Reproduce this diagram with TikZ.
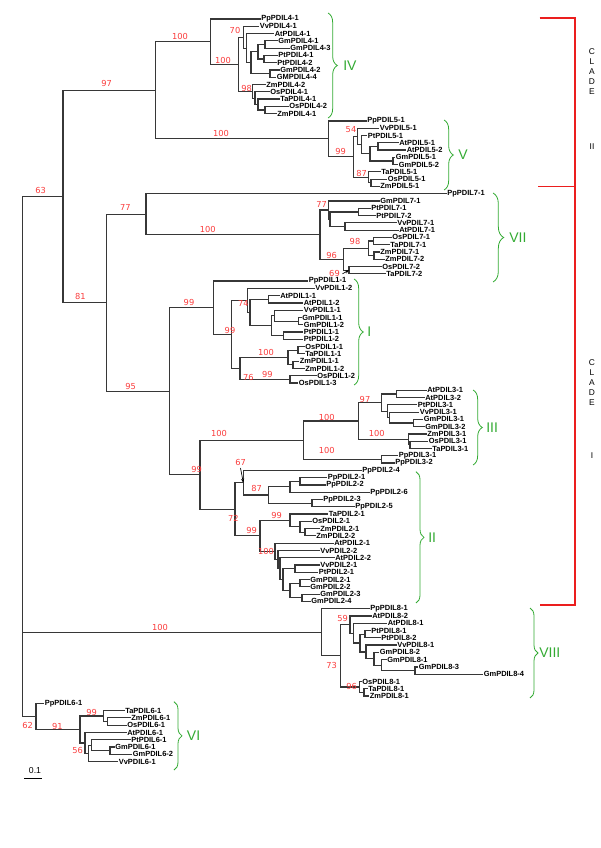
\documentclass[tikz,border=0pt]{standalone}
\usepackage{fontspec}
\setmainfont{Liberation Sans}
\newfontfamily\bsfont{DejaVu Sans}
\usetikzlibrary{calc,decorations.pathreplacing,arrows.meta}
\definecolor{bsred}{RGB}{250,60,60}
\definecolor{brgreen}{RGB}{50,170,50}
\definecolor{clred}{RGB}{235,30,30}
\definecolor{treegray}{RGB}{55,55,55}
\newcommand\lf[4]{\coordinate (#1) at (#2,{19+7.28*#3}); \node[leaf] (#1t) at (#1) {#4};}
\newcommand\nd[4]{\path let \p1=(#3), \p2=(#4) in coordinate (#1) at ({#2*0.75pt},{0.5*\y1+0.5*\y2});
  \draw[br] (#1) |- (#3); \draw[br] (#1) |- (#4);}
\newcommand\bs[4]{\node[bsl] (#1) at (#2,#3) {#4};}
\begin{document}
\begin{tikzpicture}[x=0.75pt,y=-0.75pt,
  br/.style={draw=treegray,line width=0.9pt,line cap=rect},
  leaf/.style={anchor=west,inner sep=0.8pt,font=\bfseries\fontsize{5.6}{6}\selectfont},
  bsl/.style={text=bsred,inner sep=0pt,font=\bsfont\fontsize{6.2}{7}\selectfont},
  gbr/.style={draw=brgreen,line width=0.6pt,decorate,decoration={brace,amplitude=#1}},
  glab/.style={text=brgreen,anchor=west,inner sep=0pt,font=\fontsize{10.5}{12}\selectfont},
  cl/.style={align=center,inner sep=0pt,font=\fontsize{6.3}{7.5}\selectfont},
  clr/.style={draw=clred,line width=1.4pt}]
\useasboundingbox (0,0) rectangle (600,848);
% ---------- leaves ----------
\lf{Pp41}{260}{0}{PpPDIL4-1}
\lf{Vv41}{258.5}{1}{VvPDIL4-1}
\lf{At41}{273.5}{2}{AtPDIL4-1}
\lf{Gm41}{277}{3}{GmPDIL4-1}
\lf{Gm43}{289}{4}{GmPDIL4-3}
\lf{Pt41}{277}{5}{PtPDIL4-1}
\lf{Pt42}{276}{6}{PtPDIL4-2}
\lf{Gm42}{279}{7}{GmPDIL4-2}
\lf{Gm44}{275.5}{8}{GMPDIL4-4}
\lf{Zm42}{265}{9}{ZmPDIL4-2}
\lf{Os41}{269}{10}{OsPDIL4-1}
\lf{Ta41}{279}{11}{TaPDIL4-1}
\lf{Os42}{288}{12}{OsPDIL4-2}
\lf{Zm41}{276}{13}{ZmPDIL4-1}
\lf{Pp51}{366}{14}{PpPDIL5-1}
\lf{Vv51}{378.5}{15}{VvPDIL5-1}
\lf{Pt51}{366.5}{16}{PtPDIL5-1}
\lf{At51}{398}{17}{AtPDIL5-1}
\lf{At52}{405.5}{18}{AtPDIL5-2}
\lf{Gm51}{394.5}{19}{GmPDIL5-1}
\lf{Gm52}{397.5}{20}{GmPDIL5-2}
\lf{Ta51}{380}{21}{TaPDIL5-1}
\lf{Os51}{386.5}{22}{OsPDIL5-1}
\lf{Zm51}{379}{23}{ZmPDIL5-1}
\lf{Pp71}{446}{24}{PpPDIL7-1}
\lf{Gm71}{379}{25}{GmPDIL7-1}
\lf{Pt71}{370}{26}{PtPDIL7-1}
\lf{Pt72}{375}{27}{PtPDIL7-2}
\lf{Vv71}{396}{28}{VvPDIL7-1}
\lf{At71}{398}{29}{AtPDIL7-1}
\lf{Os71}{391}{30}{OsPDIL7-1}
\lf{Ta71}{389}{31}{TaPDIL7-1}
\lf{Zm71}{379}{32}{ZmPDIL7-1}
\lf{Zm72}{384}{33}{ZmPDIL7-2}
\lf{Os72}{381}{34}{OsPDIL7-2}
\lf{Ta72}{385}{35}{TaPDIL7-2}
\lf{Pp11}{307.5}{36}{PpPDIL1-1}
\lf{Vv12}{314}{37}{VvPDIL1-2}
\lf{At11}{279}{38}{AtPDIL1-1}
\lf{At12}{302.5}{39}{AtPDIL1-2}
\lf{Vv11}{302.5}{40}{VvPDIL1-1}
\lf{Gm11}{301}{41}{GmPDIL1-1}
\lf{Gm12}{302.5}{42}{GmPDIL1-2}
\lf{Pt11}{302.5}{43}{PtPDIL1-1}
\lf{Pt12}{302.5}{44}{PtPDIL1-2}
\lf{Os11}{304}{45}{OsPDIL1-1}
\lf{Ta11}{304}{46}{TaPDIL1-1}
\lf{Zm11}{298.5}{47}{ZmPDIL1-1}
\lf{Zm12}{304}{48}{ZmPDIL1-2}
\lf{Os12}{316}{49}{OsPDIL1-2}
\lf{Os13}{297.5}{50}{OsPDIL1-3}
\lf{At31}{426}{51}{AtPDIL3-1}
\lf{At32}{424}{52}{AtPDIL3-2}
\lf{Pt31}{416.5}{53}{PtPDIL3-1}
\lf{Vv31}{418.5}{54}{VvPDIL3-1}
\lf{Gm31}{422.5}{55}{GmPDIL3-1}
\lf{Gm32}{424}{56}{GmPDIL3-2}
\lf{Zm31}{426}{57}{ZmPDIL3-1}
\lf{Os31}{427.5}{58}{OsPDIL3-1}
\lf{Ta31}{431}{59}{TaPDIL3-1}
\lf{Pp31}{397.5}{60}{PpPDIL3-1}
\lf{Pp32}{394}{61}{PpPDIL3-2}
\lf{Pp24}{361}{62}{PpPDIL2-4}
\lf{Pp21}{326.5}{63}{PpPDIL2-1}
\lf{Pp22}{325}{64}{PpPDIL2-2}
\lf{Pp26}{369}{65}{PpPDIL2-6}
\lf{Pp23}{322}{66}{PpPDIL2-3}
\lf{Pp25}{354}{67}{PpPDIL2-5}
\lf{Ta21}{327.5}{68}{TaPDIL2-1}
\lf{Os21}{311}{69}{OsPDIL2-1}
\lf{Zm21}{319}{70}{ZmPDIL2-1}
\lf{Zm22}{315}{71}{ZmPDIL2-2}
\lf{At21}{333}{72}{AtPDIL2-1}
\lf{Vv22}{319}{73}{VvPDIL2-2}
\lf{At22}{334}{74}{AtPDIL2-2}
\lf{Vv21}{319}{75}{VvPDIL2-1}
\lf{Pt21}{317.5}{76}{PtPDIL2-1}
\lf{Gm21}{309}{77}{GmPDIL2-1}
\lf{Gm22}{309}{78}{GmPDIL2-2}
\lf{Gm23}{319}{79}{GmPDIL2-3}
\lf{Gm24}{310}{80}{GmPDIL2-4}
\lf{Pp81}{369}{81}{PpPDIL8-1}
\lf{At82}{371}{82}{AtPDIL8-2}
\lf{At81}{386.5}{83}{AtPDIL8-1}
\lf{Pt81}{370}{84}{PtPDIL8-1}
\lf{Pt82}{380}{85}{PtPDIL8-2}
\lf{Vv81}{396}{86}{VvPDIL8-1}
\lf{Gm82}{378.5}{87}{GmPDIL8-2}
\lf{Gm81}{386}{88}{GmPDIL8-1}
\lf{Gm83}{417.5}{89}{GmPDIL8-3}
\lf{Gm84}{482.5}{90}{GmPDIL8-4}
\lf{Os81}{361}{91}{OsPDIL8-1}
\lf{Ta81}{367}{92}{TaPDIL8-1}
\lf{Zm81}{368.5}{93}{ZmPDIL8-1}
\lf{Pp61}{43.5}{94}{PpPDIL6-1}
\lf{Ta61}{124}{95}{TaPDIL6-1}
\lf{Zm61}{130}{96}{ZmPDIL6-1}
\lf{Os61}{126}{97}{OsPDIL6-1}
\lf{At61}{126}{98}{AtPDIL6-1}
\lf{Pt61}{130}{99}{PtPDIL6-1}
\lf{Gm61}{114}{100}{GmPDIL6-1}
\lf{Gm62}{131.5}{101}{GmPDIL6-2}
\lf{Vv61}{117.5}{102}{VvPDIL6-1}
% ---------- PDIL4 ----------
\nd{gA4}{265}{Gm41}{Gm43}
\nd{pA4}{264}{Pt41}{Pt42}
\nd{fA4}{258}{gA4}{pA4}
\nd{hA4}{270}{Gm42}{Gm44}
\nd{eA4}{251}{fA4}{hA4}
\nd{dA4}{246.7}{At41}{eA4}
\nd{bA4}{243.3}{Vv41}{dA4}
\nd{kA4}{265}{Os42}{Zm41}
\nd{jA4}{258}{Ta41}{kA4}
\nd{iA4}{255}{Os41}{jA4}
\nd{cA4}{252.7}{Zm42}{iA4}
\nd{aA4}{238.3}{bA4}{cA4}
\nd{rA4}{210.7}{Pp41}{aA4}
% ---------- PDIL5 ----------
\nd{gmV}{393}{Gm51}{Gm52}
\nd{atV}{378}{At51}{At52}
\nd{mbV}{370}{atV}{gmV}
\nd{maV}{361.7}{Pt51}{mbV}
\nd{nfV}{357.3}{Vv51}{maV}
\nd{ozV}{371}{Os51}{Zm51}
\nd{neV}{368.3}{Ta51}{ozV}
\nd{nnV}{353.3}{nfV}{neV}
\nd{rV}{328.3}{Pp51}{nnV}
\nd{nIVV}{155.7}{rA4}{rV}
% ---------- PDIL7 ----------
\nd{ptS}{358.3}{Pt71}{Pt72}
\nd{vaS}{345}{Vv71}{At71}
\nd{qS}{330}{ptS}{vaS}
\nd{nbS}{328.3}{Gm71}{qS}
\nd{otS}{373.3}{Os71}{Ta71}
\nd{zzS}{374}{Zm71}{Zm72}
\nd{ndS}{368.3}{otS}{zzS}
\nd{nsS}{349}{Os72}{Ta72}
\nd{ncS}{343.3}{ndS}{nsS}
\nd{nhS}{320}{nbS}{ncS}
\nd{naS}{146}{Pp71}{nhS}
% ---------- PDIL1 ----------
\nd{atI}{268.3}{At11}{At12}
\nd{gmI}{298.3}{Gm11}{Gm12}
\nd{tcI}{274.3}{Vv11}{gmI}
\nd{ptI}{283.3}{Pt11}{Pt12}
\nd{tbI}{271.7}{tcI}{ptI}
\nd{taI}{250}{atI}{tbI}
\nd{nsfI}{247.7}{Vv12}{taI}
\nd{otI}{298}{Os11}{Ta11}
\nd{zzI}{293}{Zm11}{Zm12}
\nd{nhI}{288}{otI}{zzI}
\nd{ncI}{290}{Os12}{Os13}
\nd{nssI}{240}{nhI}{ncI}
\nd{nbI}{231.7}{nsfI}{nssI}
\nd{naI}{213.3}{Pp11}{nbI}
% ---------- PDIL3 ----------
\nd{atT}{396.7}{At31}{At32}
\nd{gmT}{413.3}{Gm31}{Gm32}
\nd{ubT}{389.3}{Vv31}{gmT}
\nd{uaT}{387.3}{Pt31}{ubT}
\nd{nsT}{381.7}{atT}{uaT}
\nd{otT}{410}{Os31}{Ta31}
\nd{ncT}{408.3}{Zm31}{otT}
\nd{naT}{358.3}{nsT}{ncT}
\nd{ppT}{381.7}{Pp31}{Pp32}
\nd{nbT}{303.3}{naT}{ppT}
% ---------- PDIL2 ----------
\nd{pAB}{300}{Pp21}{Pp22}
\nd{pBB}{290}{pAB}{Pp26}
\nd{pCB}{312}{Pp23}{Pp25}
\nd{neB}{268.3}{pBB}{pCB}
\nd{nsB}{243.3}{Pp24}{neB}
\nd{zzB}{305}{Zm21}{Zm22}
\nd{ozB}{300}{Os21}{zzB}
\nd{tozB}{290}{Ta21}{ozB}
\nd{vpB}{295}{Vv21}{Pt21}
\nd{gaB}{300}{Gm21}{Gm22}
\nd{gbB}{302}{Gm23}{Gm24}
\nd{gcB}{290}{gaB}{gbB}
\nd{dcB}{283}{vpB}{gcB}
\nd{dbB}{280}{At22}{dcB}
\nd{daB}{278}{Vv22}{dbB}
\nd{nhB}{275}{At21}{daB}
\nd{nnB}{260}{tozB}{nhB}
\nd{nsvB}{235}{nsB}{nnB}
\nd{nnBT}{200}{nbT}{nsvB}
% ---------- PDIL8 ----------
\nd{ptE}{365}{Pt81}{Pt82}
\nd{gaE}{415}{Gm83}{Gm84}
\nd{gbE}{381.7}{Gm81}{gaE}
\nd{gcE}{374}{Gm82}{gbE}
\nd{vvE}{366}{Vv81}{gcE}
\nd{scE}{360}{ptE}{vvE}
\nd{saE}{353.3}{At81}{scE}
\nd{nfE}{350}{At82}{saE}
\nd{tzE}{364}{Ta81}{Zm81}
\nd{nnE}{359.3}{Os81}{tzE}
\nd{nsE}{340.7}{nfE}{nnE}
\nd{nhE}{321.7}{Pp81}{nsE}
% ---------- PDIL6 ----------
\nd{zoX}{107.3}{Zm61}{Os61}
\nd{nnX}{103.3}{Ta61}{zoX}
\nd{gmX}{110}{Gm61}{Gm62}
\nd{vbX}{91.7}{Pt61}{gmX}
\nd{vaX}{88.3}{vbX}{Vv61}
\nd{nfX}{85}{At61}{vaX}
\nd{noX}{80}{nnX}{nfX}
\nd{nsX}{36}{Pp61}{noX}
% ---------- backbone ----------
\nd{nnf}{169.7}{naI}{nnBT}
\nd{nei}{106.7}{naS}{nnf}
\nd{nsi}{63}{nIVV}{nei}
\nd{root}{22.7}{nsi}{nsX}
\draw[br] (root) |- (nhE);
% ---------- bootstrap values ----------
\bs{b01}{180}{36}{100}
\bs{b02}{223}{60.7}{100}
\bs{b03}{235}{30}{70}
\bs{b04}{246.7}{88}{98}
\bs{b05}{106.7}{83.3}{97}
\bs{b06}{40.7}{190.7}{63}
\bs{b07}{221}{133}{100}
\bs{b08}{351}{130}{54}
\bs{b09}{340.7}{151.7}{99}
\bs{b10}{361.7}{173.3}{87}
\bs{b11}{125.3}{207.7}{77}
\bs{b12}{207.7}{229}{100}
\bs{b13}{321.7}{204}{77}
\bs{b14}{355}{241.7}{98}
\bs{b15}{331.7}{255}{96}
\bs{b16}{334.5}{273}{69}
\bs{b17}{80.3}{296}{81}
\bs{b18}{189}{302.7}{99}
\bs{b19}{243.3}{303.3}{74}
\bs{b20}{230}{330}{99}
\bs{b21}{266}{352.3}{100}
\bs{b22}{248.3}{377.3}{76}
\bs{b23}{267.3}{374.3}{99}
\bs{b24}{130.7}{386}{95}
\bs{b25}{219}{433}{100}
\bs{b26}{326.7}{417.3}{100}
\bs{b27}{365}{399}{97}
\bs{b28}{376.7}{433.3}{100}
\bs{b29}{326.7}{450.7}{100}
\bs{b30}{196.7}{469.3}{99}
\bs{b31}{240.7}{462.7}{67}
\bs{b32}{256.7}{488.3}{87}
\bs{b33}{233.3}{518.3}{72}
\bs{b34}{276.7}{515}{99}
\bs{b35}{251.7}{530}{99}
\bs{b36}{266}{551.7}{100}
\bs{b37}{160}{627}{100}
\bs{b38}{342.7}{618.3}{59}
\bs{b39}{331.7}{665}{73}
\bs{b40}{351.7}{686}{96}
\bs{b41}{27.7}{725}{62}
\bs{b42}{57.3}{726}{91}
\bs{b43}{91.7}{712.7}{99}
\bs{b44}{77.7}{750}{56}
\coordinate (a69) at (342.5,273.8);
\draw[-{Stealth[length=3pt,width=2.4pt]},line width=0.5pt] (a69) -- (nsS);
\coordinate (a67) at (240.5,468);
\draw[-{Stealth[length=3pt,width=2.4pt]},line width=0.5pt] (a67) -- (nsB);
% ---------- scale bar ----------
\coordinate (sba) at (24,778.3); \coordinate (sbb) at (41.7,778.3);
\draw[line width=0.8pt] (sba) -- (sbb);
\node[inner sep=0pt,font=\fontsize{6.5}{7}\selectfont] (sbl) at (35,771) {0.1};
% ---------- green braces ----------
\coordinate (IVa) at (328,13); \coordinate (IVb) at (328,118);
\draw[gbr=7pt] (IVa) -- (IVb); \node[glab] (IV) at (343,66) {IV};
\coordinate (Va) at (444,120); \coordinate (Vb) at (444,190);
\draw[gbr=7pt] (Va) -- (Vb); \node[glab] (V) at (458,155) {V};
\coordinate (VIIa) at (493,193); \coordinate (VIIb) at (493,282);
\draw[gbr=8pt] (VIIa) -- (VIIb); \node[glab] (VII) at (509,237.5) {VII};
\coordinate (Ia) at (354,279); \coordinate (Ib) at (354,385);
\draw[gbr=7pt] (Ia) -- (Ib); \node[glab] (I) at (367,332) {I};
\coordinate (IIIa) at (473,390); \coordinate (IIIb) at (473,465);
\draw[gbr=7pt] (IIIa) -- (IIIb); \node[glab] (III) at (486,427.5) {III};
\coordinate (IIa) at (416,471.7); \coordinate (IIb) at (416,603);
\draw[gbr=6pt] (IIa) -- (IIb); \node[glab] (II) at (428,537.3) {II};
\coordinate (VIIIa) at (530,608); \coordinate (VIIIb) at (530,698);
\draw[gbr=6pt] (VIIIa) -- (VIIIb); \node[glab] (VIII) at (539,653) {VIII};
\coordinate (VIa) at (174,701.7); \coordinate (VIb) at (174,770);
\draw[gbr=6pt] (VIa) -- (VIb); \node[glab] (VI) at (186.7,735.8) {VI};
% ---------- red clade bracket ----------
\coordinate (ra) at (539.7,17.9); \coordinate (rb) at (574.6,17.9);
\coordinate (rc) at (538,186.5); \coordinate (rd) at (574.6,186.5);
\coordinate (re) at (539.7,605); \coordinate (rf) at (574.6,605);
\draw[clr] (ra) -- (rb) -- (rf) -- (re);
\draw[clr] (rc) -- (rd);
\node[cl] (cII) at (592,71.5) {C\\L\\A\\D\\E};
\node[cl] (cIIn) at (592,146.8) {II};
\node[cl] (cI) at (592,382.7) {C\\L\\A\\D\\E};
\node[cl] (cIn) at (592,456) {I};
\end{tikzpicture}
\end{document}
